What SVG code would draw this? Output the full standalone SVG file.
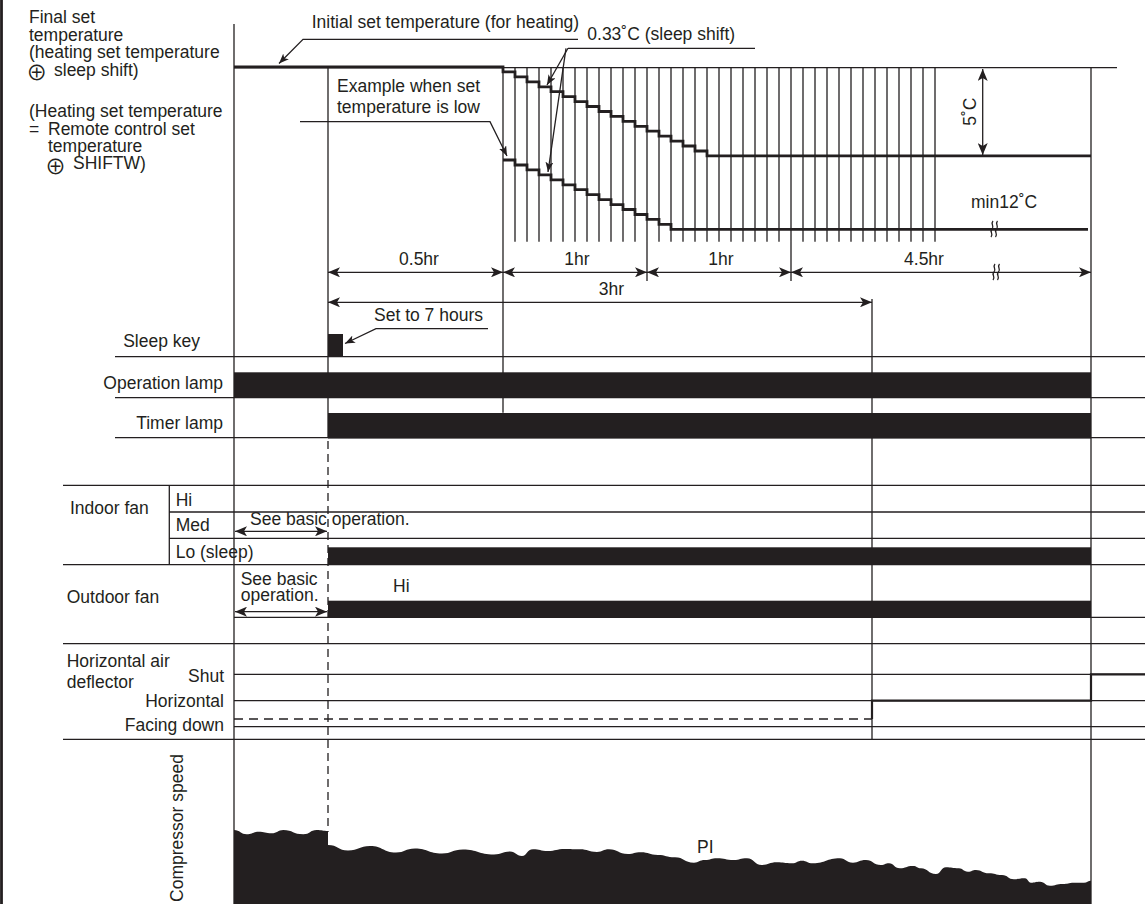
<svg xmlns="http://www.w3.org/2000/svg" width="1145" height="904" viewBox="0 0 1145 904">
<style>
text{font-family:"Liberation Sans",Arial,sans-serif;font-size:17.5px;fill:#231f20}
.sym{font-family:"Noto Sans CJK JP","DejaVu Sans",sans-serif;font-size:21px}
.thin{stroke:#231f20;stroke-width:1.3;fill:none}
.thick{stroke:#231f20;stroke-width:2.8;fill:none}
.dash{stroke:#231f20;stroke-width:1.3;fill:none;stroke-dasharray:8,5}
.bar{fill:#231f20}
.e{text-anchor:end}
.m{text-anchor:middle}
</style>
<defs>
<marker id="a" markerUnits="userSpaceOnUse" markerWidth="14" markerHeight="10" refX="12" refY="5" orient="auto-start-reverse"><path d="M0,0 L12,5 L0,10 L3,5 Z" fill="#231f20"/></marker>
<marker id="s" markerUnits="userSpaceOnUse" markerWidth="11" markerHeight="8" refX="10" refY="4" orient="auto"><path d="M0,0 L10,4 L0,8 L2.5,4 Z" fill="#231f20"/></marker>
</defs>
<rect width="1145" height="904" fill="#fff"/>

<g id="frame">
<line class="thick" x1="1.5" y1="0" x2="1.5" y2="904"/>
<line class="thin" x1="234" y1="24" x2="234" y2="904"/>
<line class="thin" x1="1091" y1="67.7" x2="1091" y2="904"/>
<line class="thin" x1="872" y1="299" x2="872" y2="740"/>
<line class="thin" x1="503" y1="67.7" x2="503" y2="412.7"/>
<line class="thin" x1="328" y1="67" x2="328" y2="437"/>
<line class="dash" x1="328" y1="441" x2="328" y2="832"/>
<line class="thin" x1="234" y1="67.7" x2="1117" y2="67.7"/>
</g>

<g id="temperature-chart">
<path class="thin" d="M515,67.7V241.7M527,67.7V241.7M539,67.7V241.7M551,67.7V241.7M563,67.7V241.7M575,67.7V241.7M587,67.7V241.7M599,67.7V241.7M611,67.7V241.7M623,67.7V241.7M635,67.7V241.7M647,67.7V281M659,67.7V241.7M671,67.7V241.7M683,67.7V241.7M695,67.7V241.7M707,67.7V241.7M719,67.7V241.7M731,67.7V241.7M743,67.7V241.7M755,67.7V241.7M767,67.7V241.7M779,67.7V241.7M791,67.7V281M803,67.7V241.7M815,67.7V241.7M827,67.7V241.7M839,67.7V241.7M851,67.7V241.7M863,67.7V241.7M875,67.7V241.7M887,67.7V241.7M899,67.7V241.7M911,67.7V241.7M923,67.7V241.7M935,67.7V241.7"/>
<path class="thick" d="M234,67 H503 V71.9 H515 V76.9 H527 V81.8 H539 V86.8 H551 V91.7 H563 V96.6 H575 V101.6 H587 V106.5 H599 V111.5 H611 V116.4 H623 V121.3 H635 V126.3 H647 V131.2 H659 V136.2 H671 V141.1 H683 V146 H695 V151 H707 V155.9 H1091"/>
<path class="thick" d="M503,160 H515 V165 H527 V169.9 H539 V174.9 H551 V179.8 H563 V184.8 H575 V189.7 H587 V194.7 H599 V199.6 H611 V204.6 H623 V209.5 H635 V214.5 H647 V219.4 H659 V224.4 H671 V229.3 H1088"/>
<line class="thin" x1="982.7" y1="69" x2="982.7" y2="155" marker-start="url(#a)" marker-end="url(#a)"/>
<path class="thin" d="M993,221 C990,224.5 995,226 992,229 C989,232 994,233.5 991,237 M997.5,221 C994.5,224.5 999.5,226 996.5,229 C993.5,232 998.5,233.5 995.5,237"/>
<text x="976" y="111.7" class="m" transform="rotate(-90 976 111.7)">5˚C</text>
<text x="971" y="207.7">min12˚C</text>
</g>

<g id="leaders">
<path class="thin" d="M578,39.3 H303 L279,63.5" marker-end="url(#s)"/>
<text x="311.7" y="27.7">Initial set temperature (for heating)</text>
<line class="thin" x1="568" y1="48.3" x2="755" y2="48.3"/>
<line class="thin" x1="568" y1="48.3" x2="547" y2="85" marker-end="url(#s)"/>
<line class="thin" x1="566" y1="48.3" x2="548" y2="172" marker-end="url(#s)"/>
<text x="587.3" y="40">0.33˚C (sleep shift)</text>
<path class="thin" d="M300,121.7 H490 L507,156" marker-end="url(#s)"/>
<text x="337" y="92.3">Example when set</text>
<text x="337" y="112.7">temperature is low</text>
</g>

<g id="left-labels">
<text x="29" y="23.3">Final set</text>
<text x="29" y="40.5">temperature</text>
<text x="29" y="57.5">(heating set temperature</text>
<text x="26.2" y="79.8"><tspan class="sym">⊕</tspan><tspan x="54" y="76">sleep shift)</tspan></text>
<text x="29" y="116.7">(Heating set temperature</text>
<text x="29" y="134.5">=<tspan x="48">Remote control set</tspan></text>
<text x="48" y="151.5">temperature</text>
<text x="44.9" y="174"><tspan class="sym">⊕</tspan><tspan x="73" y="169">SHIFTW)</tspan></text>
</g>

<g id="time-dimensions">
<line class="thin" x1="328" y1="272.3" x2="503" y2="272.3" marker-start="url(#a)" marker-end="url(#a)"/>
<line class="thin" x1="503" y1="272.3" x2="647" y2="272.3" marker-start="url(#a)" marker-end="url(#a)"/>
<line class="thin" x1="647" y1="272.3" x2="791" y2="272.3" marker-start="url(#a)" marker-end="url(#a)"/>
<line class="thin" x1="791" y1="272.3" x2="1091" y2="272.3" marker-start="url(#a)" marker-end="url(#a)"/>
<path class="thin" d="M995,264 C992,267.5 997,269 994,272 C991,275 996,276.5 993,280 M999.5,264 C996.5,267.5 1001.5,269 998.5,272 C995.5,275 1000.5,276.5 997.5,280"/>
<line class="thin" x1="328" y1="302.3" x2="872" y2="302.3" marker-start="url(#a)" marker-end="url(#a)"/>
<text x="419" y="265" class="m">0.5hr</text>
<text x="577" y="265" class="m">1hr</text>
<text x="721" y="265" class="m">1hr</text>
<text x="924" y="265" class="m">4.5hr</text>
<text x="611.5" y="295" class="m">3hr</text>
</g>

<g id="sleep-key">
<text x="200" y="347" class="e">Sleep key</text>
<rect class="bar" x="328" y="334" width="15" height="23"/>
<path class="thin" d="M488,328.7 H376 L345,343.5" marker-end="url(#s)"/>
<text x="374" y="320.5">Set to 7 hours</text>
</g>

<g id="grid-lines">
<path class="thin" d="M115,356.7H1145M115,397.7H1145M115,437.7H1145M63,485.3H1145M169,512H1145M169,538.3H1145M63,564.7H1145M234,617.3H1145M63,643.7H1145M234,674.3H1145M234,700.7H1145M234,726.7H1145M63,739.3H1145M169.3,485.3V564.7"/>
</g>

<g id="operation-lamp">
<text x="223" y="388.5" class="e">Operation lamp</text>
<rect class="bar" x="234" y="372.3" width="857" height="25.4"/>
</g>

<g id="timer-lamp">
<text x="223" y="429" class="e">Timer lamp</text>
<rect class="bar" x="328" y="413" width="763" height="25.5"/>
</g>

<g id="indoor-fan">
<text x="70" y="514">Indoor fan</text>
<text x="175.7" y="505.7">Hi</text>
<text x="175.7" y="531.3">Med</text>
<text x="175.7" y="557.7">Lo (sleep)</text>
<text x="250" y="525">See basic operation.</text>
<line class="thin" x1="235" y1="531.3" x2="327" y2="531.3" marker-start="url(#a)" marker-end="url(#a)"/>
<rect class="bar" x="328" y="547.3" width="763" height="17.7"/>
</g>

<g id="outdoor-fan">
<text x="66.7" y="603.3">Outdoor fan</text>
<text x="240.7" y="585">See basic</text>
<text x="240.7" y="601">operation.</text>
<text x="393" y="591.7">Hi</text>
<line class="thin" x1="235" y1="611.7" x2="327" y2="611.7" marker-start="url(#a)" marker-end="url(#a)"/>
<rect class="bar" x="328" y="600.7" width="763" height="16.6"/>
</g>

<g id="air-deflector">
<text x="66.7" y="666.5">Horizontal air</text>
<text x="66.7" y="687.5">deflector</text>
<text x="224" y="682.3" class="e">Shut</text>
<text x="224" y="707.3" class="e">Horizontal</text>
<text x="224" y="731" class="e">Facing down</text>
<line class="dash" x1="234" y1="719" x2="872" y2="719" style="stroke-dasharray:9,6"/>
<path class="thick" style="stroke-width:2.2" d="M872,719 V700.7 H1091 V674.3 H1145"/>
</g>

<g id="compressor">
<text x="183" y="828" class="m" transform="rotate(-90 183 828)">Compressor speed</text>
<path class="bar" d="M234,904 V830 C240,830 241,834.3 246.7,834.3 C252,834.3 253,831.7 258.3,831.7 C265,831.7 265,833.3 271.7,833.3 C277,833.3 278,830 283.3,830 C293,830 293,834.3 303.3,834.3 C310,834.3 310,830 316.7,830 C322,830 323,831 328,831 V845 C338,845 338,850.5 348,850.5 C359,850.5 359,846 370,846 C383,846 383,852.5 396,852.5 C405,852.5 405,848.5 415,848.5 C428,848.5 428,853.5 442,853.5 C452,853.5 452,849.5 463,849.5 C478,849.5 478,854.5 494,854.5 C502,854.5 502,851.5 510,851.5 C516,851.5 516,856 522,856 C527,856 527,849.3 533,849.3 C540,849.3 540,851 548,851 C556,851 556,849 565,849 C572,849 572,849.3 580,849.3 C588,849.3 588,852 597,852 C603,852 603,849.3 609,849.3 C618,849.3 618,854 628,854 C634,854 634,852.3 641,852.3 C649,852.3 649,855 658,855 C666,855 666,857.3 675,857.3 C684,857.3 684,862.7 694,862.7 C699,862.7 699,860 705,860 C711,860 711,858.3 717,858.3 C725,858.3 725,860 734,860 C740,860 740,858.3 747,858.3 C754,858.3 754,865 762,865 C769,865 769,862.3 777,862.3 C784,862.3 784,863.3 792,863.3 C797,863.3 797,860.7 802,860.7 C807,860.7 807,863.3 813,863.3 C826,863.3 826,858.3 840,858.3 C846,858.3 846,862.7 853,862.7 C859,862.7 859,860 866,860 C873,860 873,865 881,865 C885,865 885,863.3 889,863.3 C894,863.3 894,868.3 900,868.3 C906,868.3 906,866 913,866 C917,866 917,868.3 921,868.3 C928,868.3 928,874 936,874 C941,874 941,867.3 946,867.3 C952,867.3 952,868.3 959,868.3 C963,868.3 963,871.7 968,871.7 C972,871.7 972,870 976,870 C982,870 982,873.3 989,873.3 C995,873.3 995,875 1002,875 C1008,875 1008,879.3 1014,879.3 C1019,879.3 1019,878.3 1025,878.3 C1028,878.3 1028,882.7 1031,882.7 C1035,882.7 1035,881.7 1040,881.7 C1045,881.7 1045,885.7 1050,885.7 C1056,885.7 1056,884 1063,884 C1068,884 1068,882.7 1074,882.7 C1079,882.7 1079,882.7 1084,882.7 C1087,882.7 1088,880.7 1091,880.7 V904 Z"/>
<text x="697" y="852.5">PI</text>
</g>
</svg>
